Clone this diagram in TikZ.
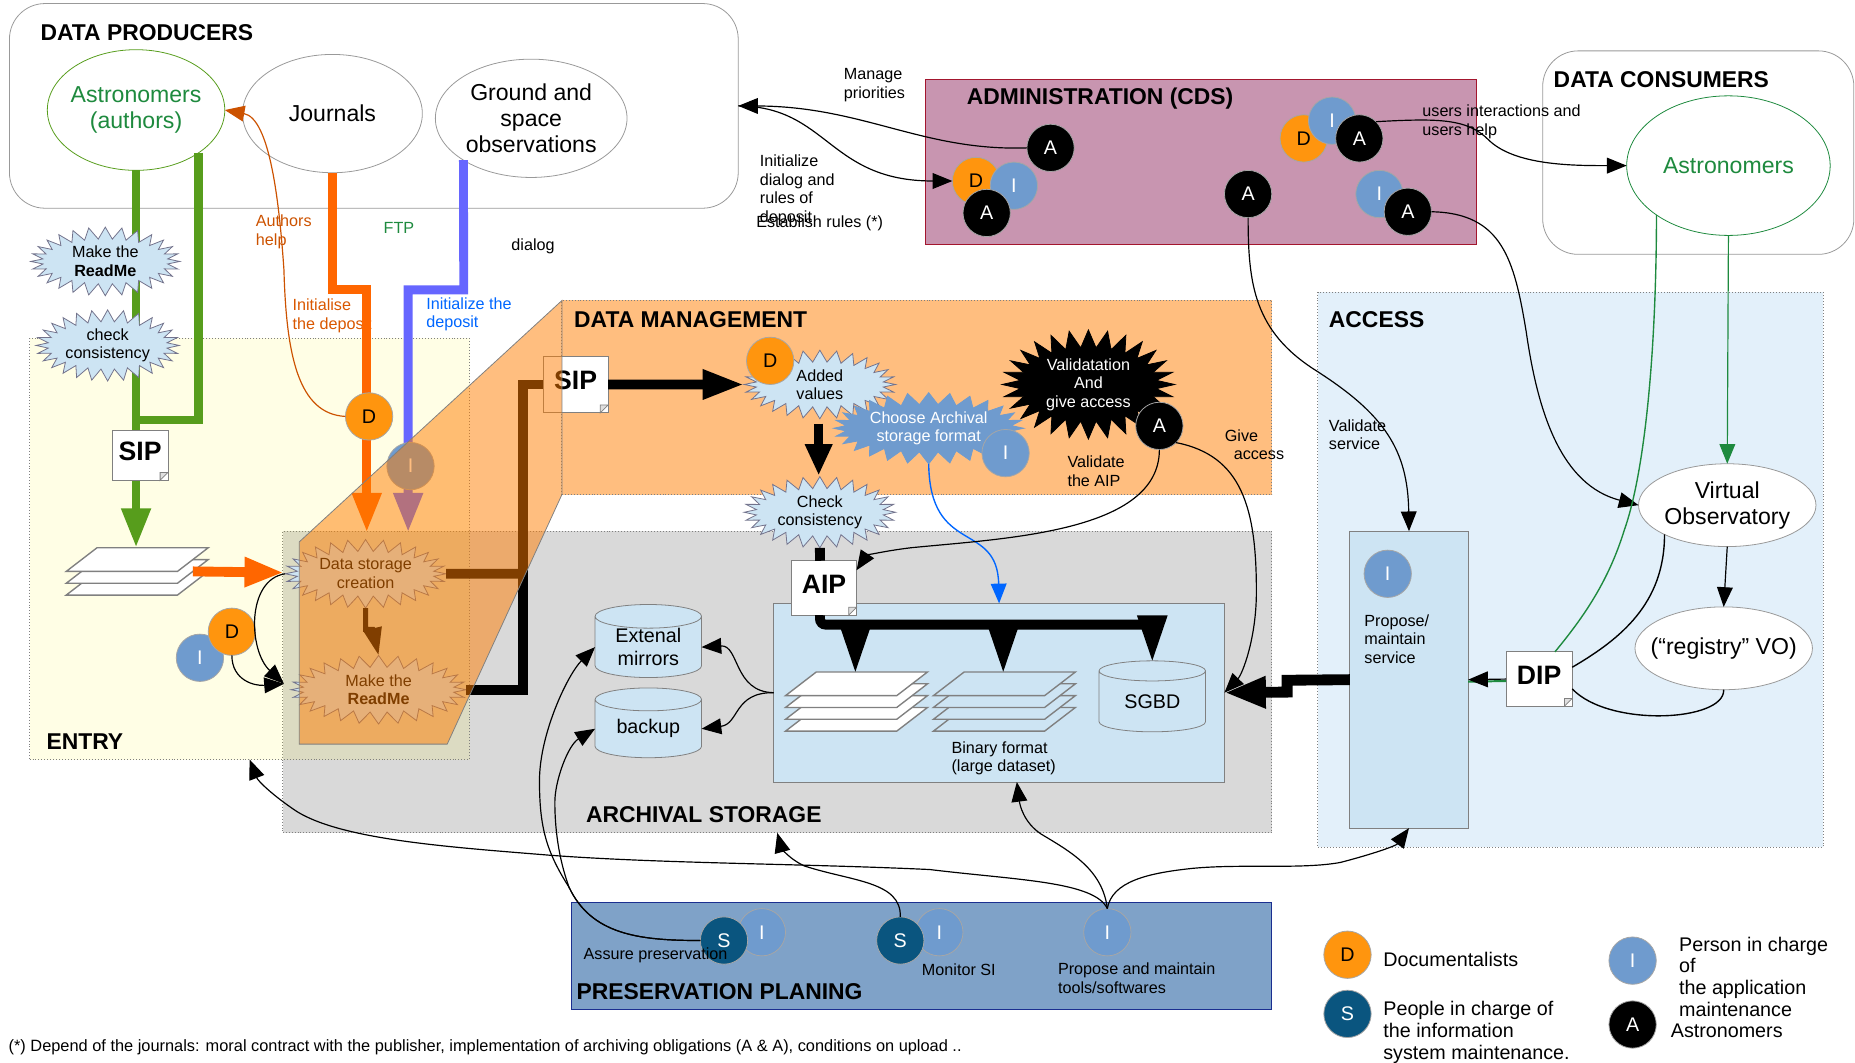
\documentclass[tikz,border=0pt]{standalone}
\usepackage{fontspec}
\setmainfont{Liberation Sans}
\usetikzlibrary{arrows.meta,shapes.geometric,shapes.symbols,calc}
\definecolor{adminfill}{HTML}{C895B0}
\definecolor{adminline}{HTML}{A3162E}
\definecolor{accessfill}{HTML}{E3F0FA}
\definecolor{archivefill}{HTML}{D9D9D9}
\definecolor{planfill}{HTML}{7FA2C8}
\definecolor{planline}{HTML}{1B2F90}
\definecolor{mgmtfill}{RGB}{255,125,0}
\definecolor{palefill}{HTML}{CDE4F3}
\definecolor{personDc}{HTML}{FF950E}
\definecolor{personIc}{HTML}{6F9BCE}
\definecolor{personSc}{HTML}{0A557F}
\definecolor{greenflow}{HTML}{579D1C}
\definecolor{orangeflow}{HTML}{FF6600}
\definecolor{blueflow}{HTML}{6666FF}
\definecolor{thingreen}{HTML}{1E8A3E}
\tikzset{
  box/.code 2 args={\pgfmathsetlengthmacro\boxw{#1*0.6}\pgfmathsetlengthmacro\boxh{#2*0.6}%
    \edef\next{\noexpand\tikzset{minimum width=\boxw,minimum height=\boxh,inner sep=0pt,outer sep=0pt}}\next},
  rounded/.style={draw=gray!80,rounded corners=18pt},
  region/.style={draw=gray,densely dotted,line width=.5pt},
  title/.style={font=\fontsize{11.6}{14}\selectfont\bfseries,anchor=west,inner sep=0pt},
  lab/.style={font=\fontsize{8.2}{9.4}\selectfont,align=left,anchor=west,inner sep=0pt},
  legendtext/.style={font=\fontsize{10}{11}\selectfont,align=left,anchor=west,inner sep=0pt},
  oval/.style={ellipse,draw=gray!80,fill=white,font=\fontsize{11.7}{13.2}\selectfont,align=center},
  person/.style={circle,minimum size=24pt,inner sep=0pt,outer sep=0pt,draw=gray!70,font=\fontsize{10}{10}\selectfont},
  personD/.style={person,fill=personDc},
  personI/.style={person,fill=personIc,text=white},
  personA/.style={person,fill=black,text=white},
  personS/.style={person,fill=personSc,text=white},
  burst/.style={starburst,starburst points=28,starburst point height=6pt,random starburst=0,
    draw=gray!90!blue,fill=palefill,font=\fontsize{8.2}{9.4}\selectfont,align=center},
  docpage/.style={draw=gray,fill=white,text depth=4pt,font=\fontsize{13.5}{14}\selectfont\bfseries},
  sheet/.style={draw=gray,line width=.7pt},
  disk/.style={cylinder,shape border rotate=90,aspect=.36,draw=gray,cylinder uses custom fill,
    cylinder body fill=palefill,cylinder end fill=palefill,font=\fontsize{10}{11.5}\selectfont,align=center},
  flow/.style={line width=.6pt,-{Triangle[length=10pt,width=8pt]}},
  heavy/.style={line width=4.5pt,-{Triangle[length=20pt,width=14pt]}},
}
\newcommand{\docfold}[1]{\filldraw[draw=gray,fill=gray!25] ([xshift=-4pt]#1.south east) -- ([yshift=4pt]#1.south east) -- ([xshift=-4pt,yshift=4pt]#1.south east) -- cycle;}
\begin{document}
\begin{tikzpicture}[x=0.6pt,y=-0.6pt]
\useasboundingbox (0,0) rectangle (1568,898.5);
\node[rounded,box={616}{173}] (producers) at (316,89.5) {};
\node[rounded,box={263}{172}] (consumers) at (1435.5,129) {};
\node[draw=adminline,fill=adminfill,box={466}{140}] (admin) at (1015,137) {};
\node[region,fill=accessfill,box={427}{469}] (access) at (1327.5,481.5) {};
\node[region,fill=archivefill,box={836}{255}] (archival) at (657,576.5) {};
\node[region,fill=yellow,fill opacity=.1,box={372}{356}] (entry) at (211,464) {};
\node[region,fill=mgmtfill,fill opacity=.5,box={600}{164}] (mgmt) at (775,336) {};
\node[title] at (34,28) {DATA PRODUCERS};
\node[title] at (1313,67.5) {DATA CONSUMERS};
\node[title] at (817,83) {ADMINISTRATION (CDS)};
\node[title] at (485,270) {DATA MANAGEMENT};
\node[title] at (1123,270) {ACCESS};
\node[title] at (39,627) {ENTRY};
\node[title] at (495,689) {ARCHIVAL STORAGE};
\node[lab] at (713,72) {Manage\\priorities};
\node[lab] at (642,161) {Initialize\\dialog and\\rules of\\deposit};
\node[lab] at (639,188.5) {Establish rules (*)};
\node[lab,text=orangeflow!80!black] at (216,196) {Authors\\help};
\node[lab,text=orangeflow!85!black] at (247,267) {Initialise\\the deposit};
\node[lab,text=thingreen] at (324,192.5) {FTP};
\node[lab] at (432,208) {dialog};
\node[lab,text=blue!60!cyan] at (360,265.5) {Initialize the\\deposit};
\node[oval,draw=greenflow,text=thingreen,box={150}{102},inner xsep=-2pt,inner ysep=-2pt] (authors) at (115,93) {Astronomers\\(authors)};
\node[oval,box={152}{100}] (journals) at (281,96) {Journals};
\node[oval,box={162}{100},inner xsep=-1pt,inner ysep=-1pt] (ground) at (449,100) {Ground and\\space\\observations};
\node[oval,draw=thingreen,text=thingreen,box={172}{118}] (astronomers) at (1461,140) {Astronomers};
\node[oval,box={150}{70},inner xsep=-1pt,inner ysep=-1pt] (vo) at (1460,427) {Virtual\\Observatory};
\node[oval,box={150}{70},inner xsep=-6pt] (registry) at (1457,548) {(“registry” VO)};
\node[personA] (adminA) at (888,125) {A};
\node[personD] (adminDa) at (825,153) {D};
\node[personI] (adminIa) at (857,157) {I};
\node[personA] (adminAa) at (834,180) {A};
\node[personD] (adminDb) at (1102,117) {D};
\node[personI] (adminIb) at (1126,102) {I};
\node[personA] (adminAb) at (1149,117) {A};
\node[personA] (adminAc) at (1055,164) {A};
\node[personI] (adminIc) at (1166,164) {I};
\node[personA] (adminAd) at (1190,179) {A};
\coordinate (sipJoin) at (115,355);
\coordinate (pagesIn) at (115,463);
\coordinate (storageTopA) at (310,450);
\coordinate (storageTopB) at (345,450);
\coordinate (storageIn) at (240,484);
\coordinate (readmeIn) at (240,578);
\coordinate (busJoin) at (442,485);
\draw[line width=4.5pt,greenflow] (authors.south east) |- (sipJoin);
\draw[heavy,greenflow] (authors.south) -- (pagesIn);
\draw[heavy,orangeflow] (journals.south) -- (281,245) -- (310,245) -- (storageTopA);
\draw[heavy,blueflow] (ground.south west) -- (392,245) -- (345,245) -- (storageTopB);
\foreach \i in {2,1,0}
  \draw[sheet,fill=white] (56,483+10*\i) -- (150,483+10*\i) -- (176,463+10*\i) -- (82,463+10*\i) -- cycle;
\draw[line width=5pt,orangeflow,-{Triangle[length=20pt,width=14pt]}] (163,483) -- (storageIn);
\node[burst,box={126}{58}] (makeA) at (89,221) {Make the\\\textbf{ReadMe}};
\node[burst,box={116}{58}] (checkA) at (91,292) {check\\consistency};
\node[docpage,box={47}{42}] (sipA) at (118.5,385) {SIP};
\docfold{sipA}
\node[personD] (entryDa) at (312,352) {D};
\draw[line width=.6pt,orangeflow!80!black,-{Triangle[length=10pt,width=8pt]}] (entryDa.west) .. controls (252,350) and (242,300) .. (240,228) .. controls (236,170) and (228,100) .. (authors.east);
\node[personI] (entryIa) at (347,394) {I};
\node[personI] (entryIb) at (169,556) {I};
\node[personD] (entryDb) at (196,534) {D};
\node[burst,box={136}{58}] (storage) at (309,485) {Data storage\\creation};
\node[burst,box={148}{58}] (makeB) at (320,583) {Make the\\\textbf{ReadMe}};
\node[docpage,box={55}{48}] (sipB) at (486.5,325) {SIP};
\docfold{sipB}
\draw[flow] (storage.west) .. controls (208,490) and (210,550) .. (readmeIn);
\draw[flow] (entryDb.south) .. controls (196,575) and (215,580) .. (readmeIn);
\draw[line width=5pt] (storage.east) -- (busJoin);
\draw[line width=5pt] (makeB.east) -| (busJoin);
\draw[line width=5pt] (busJoin) |- (sipB.west);
\draw[line width=2.5pt,-{Triangle[length=14pt,width=9pt]}] (storage.south) -- (309,532) -- (315,532) -- (makeB.north);
\filldraw[draw=gray,fill=mgmtfill,fill opacity=.5,line width=.4pt] (475,254) -- (475,418) -- (378,629) -- (253,629) -- (253,458) -- cycle;
\node[draw=planline,fill=planfill,box={592}{90}] (plan) at (779,808) {};
\node[draw=gray,fill=palefill,box={381}{151}] (binary) at (844.5,585.5) {};
\node[draw=gray,fill=palefill,box={100}{251}] (propose) at (1191,574.5) {};
\foreach \i in {3,2,1,0}
  \draw[sheet,fill=white] (664,588+10*\i) -- (758,588+10*\i) -- (784,568+10*\i) -- (690,568+10*\i) -- cycle;
\foreach \i in {3,2,1,0}
  \draw[sheet,fill=palefill] (789,588+10*\i) -- (883,588+10*\i) -- (909,568+10*\i) -- (815,568+10*\i) -- cycle;
\coordinate (stackA) at (723,568);
\coordinate (stackB) at (848,568);
\node[disk,box={90}{59}] (mirrors) at (548,547) {Extenal\\mirrors};
\node[disk,box={90}{59}] (backup) at (548,616) {backup};
\node[disk,box={90}{60}] (sgbd) at (974,593) {SGBD};
\node[burst,box={128}{58}] (added) at (693,325) {Added\\values};
\node[burst,box={128}{58}] (check) at (693,433) {Check\\consistency};
\node[burst,draw=personIc,fill=personIc,text=white,box={156}{58}] (choose) at (785,362) {Choose Archival\\storage format};
\node[burst,draw=black,fill=black,text=white,starburst point height=9pt,box={146}{88}] (valid) at (920,325) {Validatation\\And\\give access};
\node[personD] (mgmtD) at (651,305) {D};
\node[personI] (mgmtI) at (850,383) {I};
\node[personA] (mgmtA) at (980,360) {A};
\node[docpage,box={55}{46}] (aip) at (696.5,497) {AIP};
\docfold{aip}
\node[docpage,box={56}{46}] (dip) at (1301,574) {DIP};
\docfold{dip}
\draw[heavy,line width=5pt,-{Triangle[length=21pt,width=14pt]}] (sipB.east) -- (added.west);
\draw[line width=4.5pt,-{Triangle[length=16pt,width=13pt]}] (692,358) -- (692,402);
\draw[line width=5pt] (check.south) -- ([xshift=-2pt]aip.north);
\draw[line width=5pt,rounded corners=3pt] ([xshift=-2pt]aip.south) -- (693,528) -- (978,528);
\draw[line width=2pt,-{Triangle[length=23pt,width=15pt]}] (723,528) -- (stackA);
\draw[line width=2pt,-{Triangle[length=23pt,width=15pt]}] (848,528) -- (stackB);
\draw[line width=2pt,-{Triangle[length=23pt,width=15pt]}] (974,526) -- (sgbd.north);
\draw[line width=5.5pt,-{Triangle[length=21pt,width=15pt]}] (propose.west) -- (1088,575) -- (1088,585) -- (binary.east);
\node[lab] at (902,398.5) {Validate\\the AIP};
\node[lab] at (1035,376) {Give\\\ \ access};
\node[lab] at (1123,367.5) {Validate\\service};
\node[lab] at (1202,103) {users interactions and\\users help};
\node[lab] at (1153,540) {Propose/\\maintain\\service};
\node[lab] at (804,641) {Binary format\\(large dataset)};
\node[personI] (accessI) at (1173,485) {I};
\draw[flow,line width=.7pt,blue!60!cyan,-{Triangle[length=10pt,width=8pt]}] (choose.south) .. controls (786,470) and (843,440) .. (binary.north);
\draw[flow] (adminA.west) .. controls (780,128) and (730,90) .. (producers.east);
\draw[flow] (producers.east) .. controls (700,90) and (700,153) .. (adminDa.west);
\draw[flow] (adminAb.north east) .. controls (1215,100) and (1240,100) .. (1258,118) .. controls (1280,140) and (1330,140) .. (astronomers.west);
\draw[flow] (adminAc.south) .. controls (1055,240) and (1060,280) .. (1112,313) .. controls (1170,350) and (1190,380) .. (propose.north);
\draw[flow] (adminAd.east) .. controls (1270,180) and (1280,220) .. (1290,280) .. controls (1300,350) and (1320,410) .. (vo.west);
\draw[flow,thingreen] (astronomers.south) -- (vo.north);
\draw[line width=.7pt,thingreen] (astronomers.south west) .. controls (1400,300) and (1390,400) .. (1373,448) .. controls (1360,490) and (1340,520) .. ([xshift=8pt]dip.north);
\draw[line width=1pt,thingreen] ([yshift=-1pt]dip.west) -- ([yshift=-1pt]propose.east);
\draw[flow] (dip.west) -- (propose.east);
\draw[line width=.7pt] (vo.south west) .. controls (1407,510) and (1370,540) .. ([yshift=6pt]dip.east);
\draw[line width=.7pt] (registry.south) .. controls (1458,610) and (1360,615) .. ([yshift=-5pt]dip.east);
\draw[flow] (vo.south) -- (registry.north);
\draw[flow] (mgmtA.south) .. controls (980,450) and (850,455) .. (770,463) .. controls (745,466) and (732,470) .. ([yshift=9pt]aip.east);
\draw[flow] (mgmtA.south east) .. controls (1050,385) and (1062,430) .. (1062,500) .. controls (1062,540) and (1050,570) .. (binary.east);
\draw[flow] (binary.west) .. controls (620,585) and (625,545) .. (mirrors.east);
\draw[flow] (binary.west) .. controls (620,585) and (625,612) .. (backup.east);
\node[personI] (planIa) at (644,788) {I};
\node[personS] (planSa) at (612,795) {S};
\node[personI] (planIb) at (794,788) {I};
\node[personS] (planSb) at (761,795) {S};
\node[personI] (planIc) at (936,788) {I};
\node[lab] at (493,807.5) {Assure preservation};
\node[lab] at (779,819.5) {Monitor SI};
\node[lab] at (894,827) {Propose and maintain\\tools/softwares};
\node[title] at (487,838) {PRESERVATION PLANING};
\draw[flow] (planSa.west) .. controls (540,795) and (500,790) .. (481,750) .. controls (462,720) and (456,700) .. (456,660) .. controls (456,620) and (480,570) .. (mirrors.west);
\draw[flow] (planSa.west) .. controls (540,795) and (500,790) .. (481,750) .. controls (472,725) and (469,700) .. (469,678) .. controls (469,660) and (480,630) .. (backup.west);
\draw[flow] (planSb.north) .. controls (762,745) and (720,745) .. (680,732) .. controls (665,725) and (660,715) .. (archival.south);
\draw[flow] (planIc.north) .. controls (925,745) and (860,744) .. (786,735) .. controls (680,730) and (560,730) .. (466,723) .. controls (380,716) and (290,710) .. (251,686) .. controls (230,672) and (218,660) .. (entry.south);
\draw[flow] (planIc.north) .. controls (932,735) and (905,720) .. (880,705) .. controls (865,695) and (862,680) .. ([xshift=9pt]binary.south);
\draw[flow] (planIc.north) .. controls (940,745) and (970,738) .. (1008,734) .. controls (1050,730) and (1100,735) .. (1133,729) .. controls (1160,722) and (1180,715) .. (propose.south);
\node[personD] (legendD) at (1139,807) {D};
\node[personS] (legendS) at (1139,857) {S};
\node[personI] (legendI) at (1380,812) {I};
\node[personA] (legendA) at (1380,866) {A};
\node[legendtext] at (1169,811) {Documentalists};
\node[legendtext] at (1169,872.5) {People in charge of\\the information\\system maintenance.};
\node[legendtext] at (1419,825.5) {Person in charge\\of\\the application\\maintenance};
\node[legendtext] at (1412,871) {Astronomers};
\node[lab,font=\fontsize{8.3}{9.4}\selectfont] at (7,885.5) {(*) Depend of the journals: moral contract with the publisher, implementation of archiving obligations (A \& A), conditions on upload ..};
\end{tikzpicture}
\end{document}
